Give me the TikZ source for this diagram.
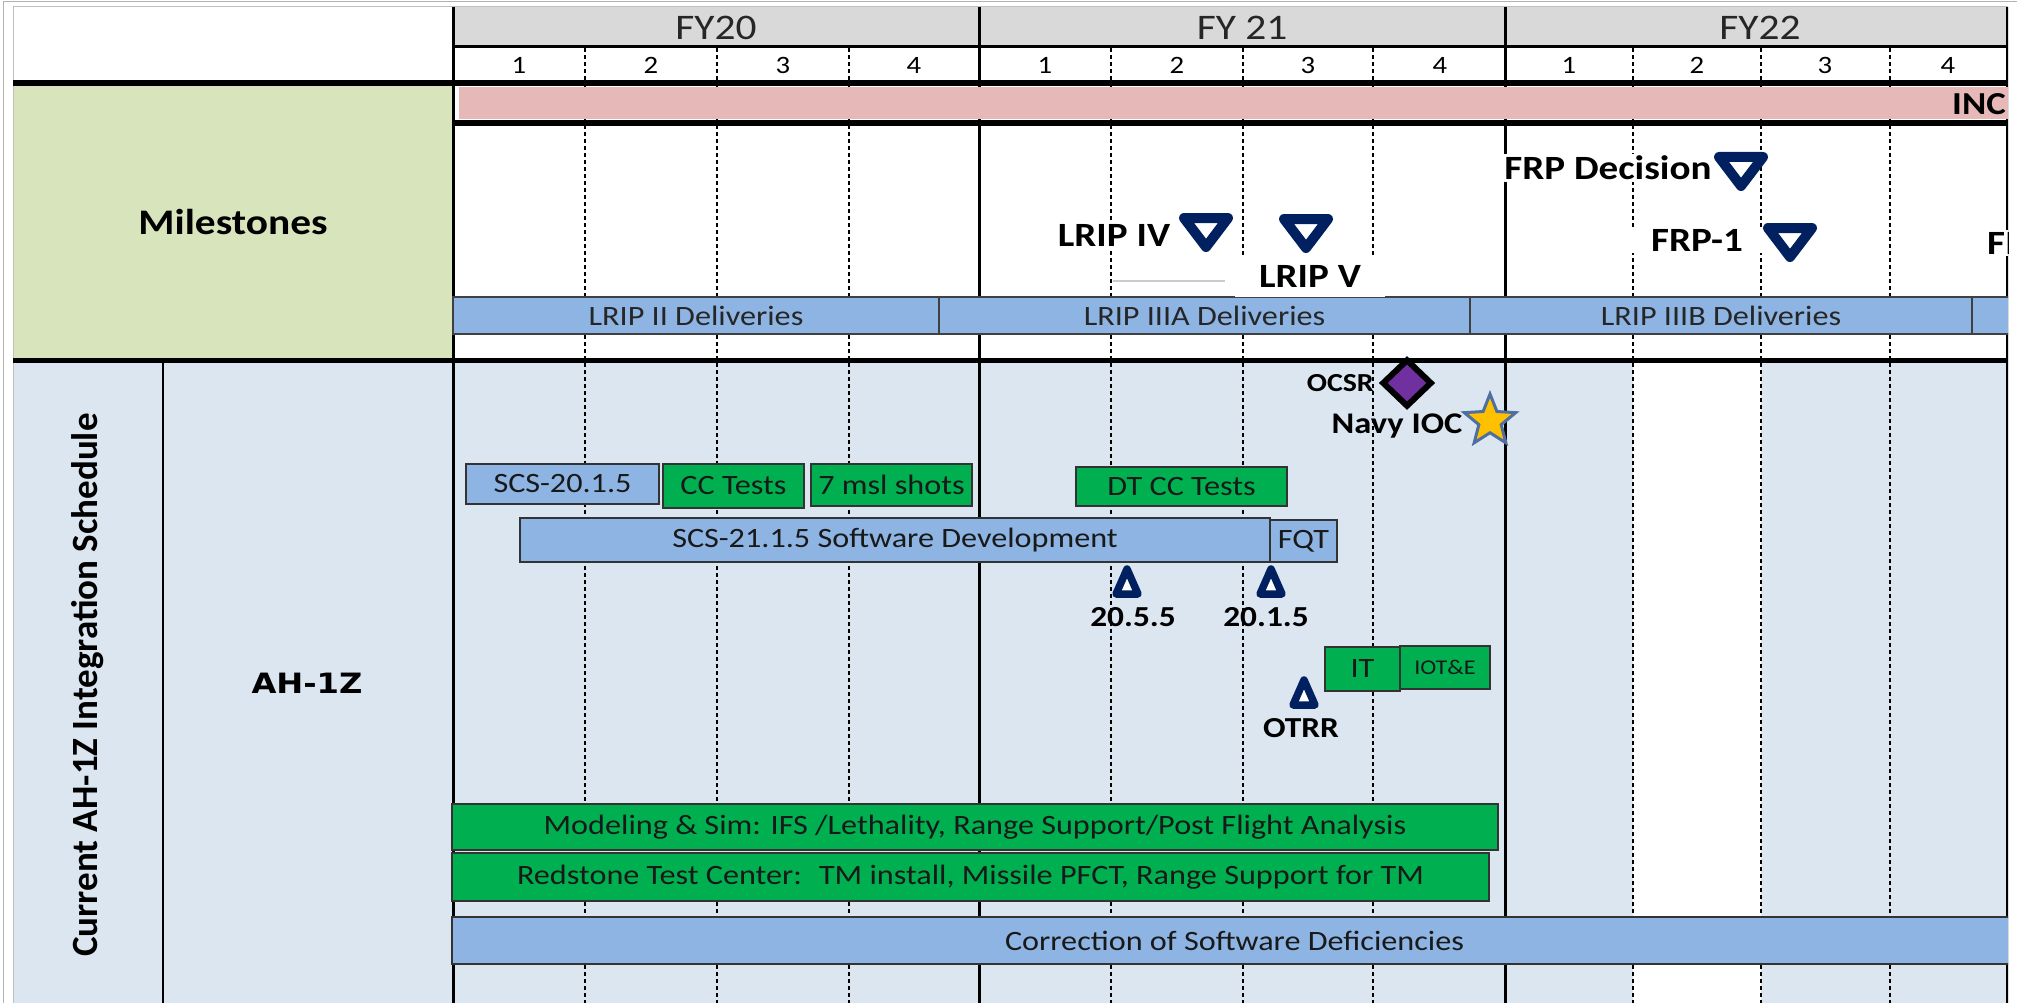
\documentclass[tikz,border=0pt]{standalone}
\usepackage{fontspec}
\setmainfont{Carlito}[FakeStretch=1.15]
\newfontfamily\calplain{Carlito}
\newfontfamily\verdlike{DejaVu Sans}[FakeStretch=1.15]
\usetikzlibrary{shapes.geometric}

\newcommand{\setfs}[1]{\fontsize{#1}{#1}\selectfont}

\definecolor{hdrgray}{HTML}{D9D9D9}
\definecolor{incpink}{HTML}{E6B8B7}
\definecolor{msgreen}{HTML}{D8E4BC}
\definecolor{paleblue}{HTML}{DCE6F1}
\definecolor{barblue}{HTML}{8DB4E2}
\definecolor{bargreen}{HTML}{00B050}
\definecolor{msnavy}{HTML}{002060}
\definecolor{ocsrpurple}{HTML}{7030A0}
\definecolor{iocgold}{HTML}{FFC000}
\definecolor{iocedge}{HTML}{4F6FA0}

\begin{document}
\begin{tikzpicture}[x=1pt, y=-1pt]
    % Define styles
    \tikzset{
        bluebar/.style={draw=black!80, line width=2pt, fill=barblue, inner sep=0pt, font=\setfs{28}, text=black!90},
        greenbar/.style={draw=black!80, line width=2pt, fill=bargreen, inner sep=0pt, font=\setfs{28}, text=black!90},
        deliverybar/.style={draw=black!75, line width=1.5pt, fill=barblue, inner sep=0pt, minimum height=37pt, font=\setfs{28}, text=black!85},
        fylabel/.style={font=\setfs{36}, text=black!85},
        qlabel/.style={font=\setfs{25}},
        mslabel/.style={font=\bfseries\setfs{34}, fill=white, inner sep=2pt},
        eventlabel/.style={font=\bfseries\setfs{29}, inner sep=0pt},
        qline/.style={dash pattern=on 4pt off 3pt, line width=1.5pt},
        fyline/.style={line width=3pt},
        sepline/.style={line width=6pt},
        downtri/.pic={\draw[msnavy, line width=10pt, line join=round, fill=white] (-22,-15) -- (22,-15) -- (0,14) -- cycle;},
        uptri/.pic={\draw[msnavy, line width=7.5pt, line join=round, fill=white] (-11,13) -- (11,13) -- (0,-12) -- cycle;}
    }

    \useasboundingbox (0,0) rectangle (2017,1003);
    \draw[gray!60, line width=1pt] (3,1003) -- (3,2) -- (2017,2);

    \begin{scope}
    \clip (0,0) rectangle (2008,1003);

    % Cell fills
    \fill[hdrgray] (453,7) rectangle (2008,46);
    \fill[msgreen] (13,83) rectangle (453,358);
    \fill[paleblue] (13,360) rectangle (2008,1003);
    \fill[white] (1633,362) rectangle (1761,1003);
    \draw[gray!50, line width=1pt] (13,1003) -- (13,7) -- (2008,7);

    % Quarter lines
    \draw[qline] (585,48) -- (585,1003);
    \draw[qline] (717,48) -- (717,1003);
    \draw[qline] (849,48) -- (849,1003);
    \draw[qline] (1111,48) -- (1111,1003);
    \draw[qline] (1243,48) -- (1243,1003);
    \draw[qline] (1373,48) -- (1373,1003);
    \draw[qline] (1633,48) -- (1633,1003);
    \draw[qline] (1761,48) -- (1761,1003);
    \draw[qline] (1890,48) -- (1890,1003);

    % Year lines and row separators
    \draw[fyline] (453,7) -- (453,1003);
    \draw[fyline] (979,7) -- (979,1003);
    \draw[fyline] (1505,7) -- (1505,1003);
    \draw[fyline] (2007,7) -- (2007,1003);
    \draw[line width=2pt] (163,360) -- (163,1003);
    \draw[line width=3pt] (453,47) -- (2008,47);
    \draw[sepline] (13,83) -- (2008,83);
    \draw[sepline] (453,123) -- (2008,123);
    \draw[line width=5pt] (13,360) -- (2008,360);

    % Increment bar
    \fill[incpink] (459,87) rectangle (2030,119);
    \node[font=\bfseries\setfs{32}, anchor=west, inner sep=0pt] (inc) at (1952,104) {INC};

    % Header
    \node[fylabel] (fy20) at (716,28) {FY20};
    \node[fylabel] (fy21) at (1242,28) {FY 21};
    \node[fylabel] (fy22) at (1760,28) {FY22};
    \node[qlabel] (q201) at (519,65) {1};
    \node[qlabel] (q202) at (651,65) {2};
    \node[qlabel] (q203) at (783,65) {3};
    \node[qlabel] (q204) at (914,65) {4};
    \node[qlabel] (q211) at (1045,65) {1};
    \node[qlabel] (q212) at (1177,65) {2};
    \node[qlabel] (q213) at (1308,65) {3};
    \node[qlabel] (q214) at (1440,65) {4};
    \node[qlabel] (q221) at (1569,65) {1};
    \node[qlabel] (q222) at (1697,65) {2};
    \node[qlabel] (q223) at (1825,65) {3};
    \node[qlabel] (q224) at (1948,65) {4};

    % Row titles
    \node[font=\bfseries\setfs{36}] (ms) at (233,222) {Milestones};
    \node[rotate=90, font=\calplain\bfseries\setfs{37}] (sched) at (88,685) {Current AH-1Z Integration Schedule};
    \node[font=\verdlike\bfseries\setfs{28}] (ah1z) at (307,683) {AH-1Z};

    % Deliveries
    \node[deliverybar, minimum width=486pt] (lrip2) at (696,315.5) {LRIP II Deliveries};
    \node[deliverybar, minimum width=531pt] (lrip3a) at (1204.5,315.5) {LRIP IIIA Deliveries};
    \node[deliverybar, minimum width=502pt] (lrip3b) at (1721,315.5) {LRIP IIIB Deliveries};
    \node[deliverybar, minimum width=80pt] (lrip4d) at (2012,315.5) {};

    % Milestones
    \draw[gray!40, line width=1.5pt] (1113,281) -- (1225,281);
    \node[mslabel] (lrip4lbl) at (1114,235) {LRIP IV};
    \pic (lrip4) at (1206,233) {downtri};
    \node[mslabel, minimum width=150pt, minimum height=41pt, inner sep=0pt] (lrip5lbl) at (1310,276) {LRIP V};
    \pic (lrip5) at (1306,234) {downtri};
    \node[mslabel, inner xsep=7pt] (frpdlbl) at (1608,168) {FRP Decision};
    \pic (frpd) at (1741,172) {downtri};
    \node[mslabel, minimum width=140pt] (frp1lbl) at (1697,240) {FRP-1};
    \pic (frp1) at (1790,243) {downtri};
    \node[mslabel, anchor=west] (frp2lbl) at (1985,243) {FI};

    % Integration tasks
    \node[bluebar, minimum width=193pt, minimum height=40pt] (scs20) at (562.5,484) {SCS-20.1.5};
    \node[greenbar, minimum width=141pt, minimum height=44pt] (cctests) at (733.5,486) {CC Tests};
    \node[greenbar, minimum width=161pt, minimum height=42pt] (mslshots) at (891.5,485) {7 msl shots};
    \node[greenbar, minimum width=211pt, minimum height=39pt] (dtcc) at (1181.5,486.5) {DT CC Tests};
    \node[bluebar, minimum width=750pt, minimum height=44pt] (scs21) at (895,540) {SCS-21.1.5 Software Development};
    \node[bluebar, minimum width=67pt, minimum height=42pt] (fqt) at (1303.5,541) {FQT};
    \node[greenbar, minimum width=75pt, minimum height=44pt] (it) at (1362.5,669) {IT};
    \node[greenbar, minimum width=90pt, minimum height=43pt, font=\setfs{21}] (iote) at (1445,667.5) {IOT\&E};
    \node[greenbar, minimum width=1046pt, minimum height=46pt] (modsim) at (975,827) {Modeling \& Sim: IFS /Lethality, Range Support/Post Flight Analysis};
    \node[greenbar, minimum width=1037pt, minimum height=48pt] (rtc) at (970.5,877) {Redstone Test Center:~ TM install, Missile PFCT, Range Support for TM};
    \node[bluebar, minimum width=1565pt, minimum height=47pt] (fixsw) at (1234.5,940.5) {Correction of Software Deficiencies};

    % Events
    \node[diamond, draw=black, line width=6pt, fill=ocsrpurple, inner sep=0pt, minimum width=50pt, minimum height=48pt] (ocsr) at (1407,383) {};
    \node[eventlabel, font=\bfseries\setfs{26}, anchor=east] (ocsrlbl) at (1374,383) {OCSR};
    \node[star, star points=5, star point ratio=2.3, draw=iocedge, line width=3pt, fill=iocgold, inner sep=0pt, minimum size=54pt] (ioc) at (1490,421) {};
    \node[eventlabel, font=\bfseries\setfs{30}] (ioclbl) at (1397,426) {Navy IOC};
    \pic (r2055) at (1127,581) {uptri};
    \node[eventlabel] (r2055lbl) at (1133,617) {20.5.5};
    \pic (r2015) at (1271,581) {uptri};
    \node[eventlabel] (r2015lbl) at (1266,617) {20.1.5};
    \pic (otrr) at (1304,692) {uptri};
    \node[eventlabel] (otrrlbl) at (1301,728) {OTRR};

    \end{scope}
\end{tikzpicture}
\end{document}
